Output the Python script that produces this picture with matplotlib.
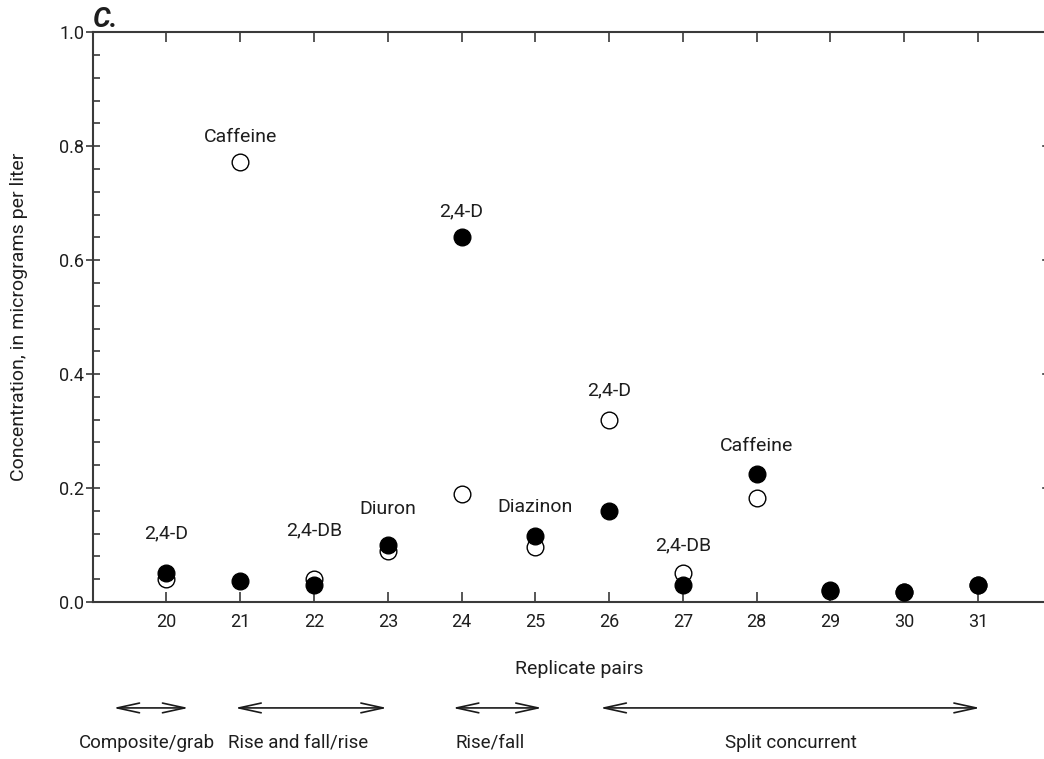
import matplotlib
matplotlib.use('Agg')
import matplotlib.pyplot as plt
from matplotlib.ticker import MultipleLocator, FixedLocator, FormatStrFormatter

# data
pairs = [20, 21, 22, 23, 24, 25, 26, 27, 28, 29, 30, 31]
sample_conc = [0.040, 0.773, 0.040, 0.090, 0.190, 0.096, 0.320, 0.050, 0.182, 0.020, 0.018, 0.030]
replicate_conc = [0.050, 0.036, 0.029, 0.100, 0.640, 0.115, 0.160, 0.030, 0.225, 0.021, 0.018, 0.030]

# compound names above some pairs (x, y of label centre)
compound_names = ['2,4-D', 'Caffeine', '2,4-DB', 'Diuron', '2,4-D', 'Diazinon', '2,4-D', '2,4-DB', 'Caffeine']
compound_x = [20, 21, 22, 23, 24, 25, 26, 27, 28]
compound_y = [0.121, 0.816, 0.125, 0.163, 0.686, 0.167, 0.372, 0.100, 0.274]

# sampling-type groups below the x axis
group_names = ['Composite/grab', 'Rise and fall/rise', 'Rise/fall', 'Split concurrent']
group_start = [19.28, 20.93, 23.88, 25.88]
group_end = [20.30, 22.99, 25.09, 31.03]
group_label_x = [19.74, 21.79, 24.39, 28.46]

plt.rcParams['font.family'] = ['Roboto', 'DejaVu Sans']
txt = '#1e1e1e'
line_col = '#3a3a3a'

fig = plt.figure(figsize=(10.44, 7.59), dpi=100)
ax = fig.add_axes([0.0888, 0.2069, 0.9185, 0.7506])

ax.plot(pairs, sample_conc, 'o', ms=12, mfc='white', mec='black', mew=1.0, zorder=3, clip_on=False)
ax.plot(pairs, replicate_conc, 'o', ms=12, mfc='black', mec='black', mew=1.0, zorder=4, clip_on=False)

for name, x, y in zip(compound_names, compound_x, compound_y):
    ax.text(x, y, name, ha='center', va='center', fontsize=14, color=txt)

ax.set_xlim(19, 32)
ax.set_ylim(0, 1.0)
ax.xaxis.set_major_locator(FixedLocator(pairs))
ax.yaxis.set_major_locator(MultipleLocator(0.2))
ax.yaxis.set_minor_locator(MultipleLocator(0.04))
ax.yaxis.set_major_formatter(FormatStrFormatter('%.1f'))

for s in ax.spines.values():
    s.set_color(line_col)
    s.set_linewidth(1.5)

ax.tick_params(axis='x', which='major', direction='in', length=7, width=1.2,
               top=True, bottom=True, color=line_col, labelsize=13, labelcolor=txt, pad=8)
ax.tick_params(axis='y', which='major', direction='inout', length=9.5, width=1.2,
               left=True, right=False, color=line_col, labelsize=13, labelcolor=txt, pad=1.5)
ax.tick_params(axis='y', which='minor', direction='in', length=5, width=1.2,
               left=True, right=False, color=line_col)
# short inward marks at the (cropped) right edge
for yv in [0.2, 0.4, 0.6, 0.8]:
    ax.plot([31.88, 32], [yv, yv], color=line_col, lw=1.2, clip_on=False)

ax.set_xlabel('Replicate pairs', fontsize=14, color=txt)
ax.xaxis.set_label_coords(0.507, -0.102)
ax.set_ylabel('Concentration, in micrograms per liter', fontsize=14, color=txt)
ax.yaxis.set_label_coords(-0.068, 0.5)

ax.text(19.0, 1.009, 'C.', fontsize=20, fontweight='bold', fontstyle='italic',
        color=txt, ha='left', va='baseline')

trans = ax.get_xaxis_transform()
for name, x0, x1, xl in zip(group_names, group_start, group_end, group_label_x):
    ax.annotate('', xy=(x1, -0.186), xytext=(x0, -0.186), xycoords=trans, textcoords=trans,
                arrowprops=dict(arrowstyle='<->,head_length=1.6,head_width=0.35',
                                lw=1.2, color='#1a1a1a', shrinkA=0, shrinkB=0))
    ax.text(xl, -0.2475, name, transform=trans, ha='center', va='center',
            fontsize=13.5, color=txt)

fig.savefig('out.png', dpi=100)
